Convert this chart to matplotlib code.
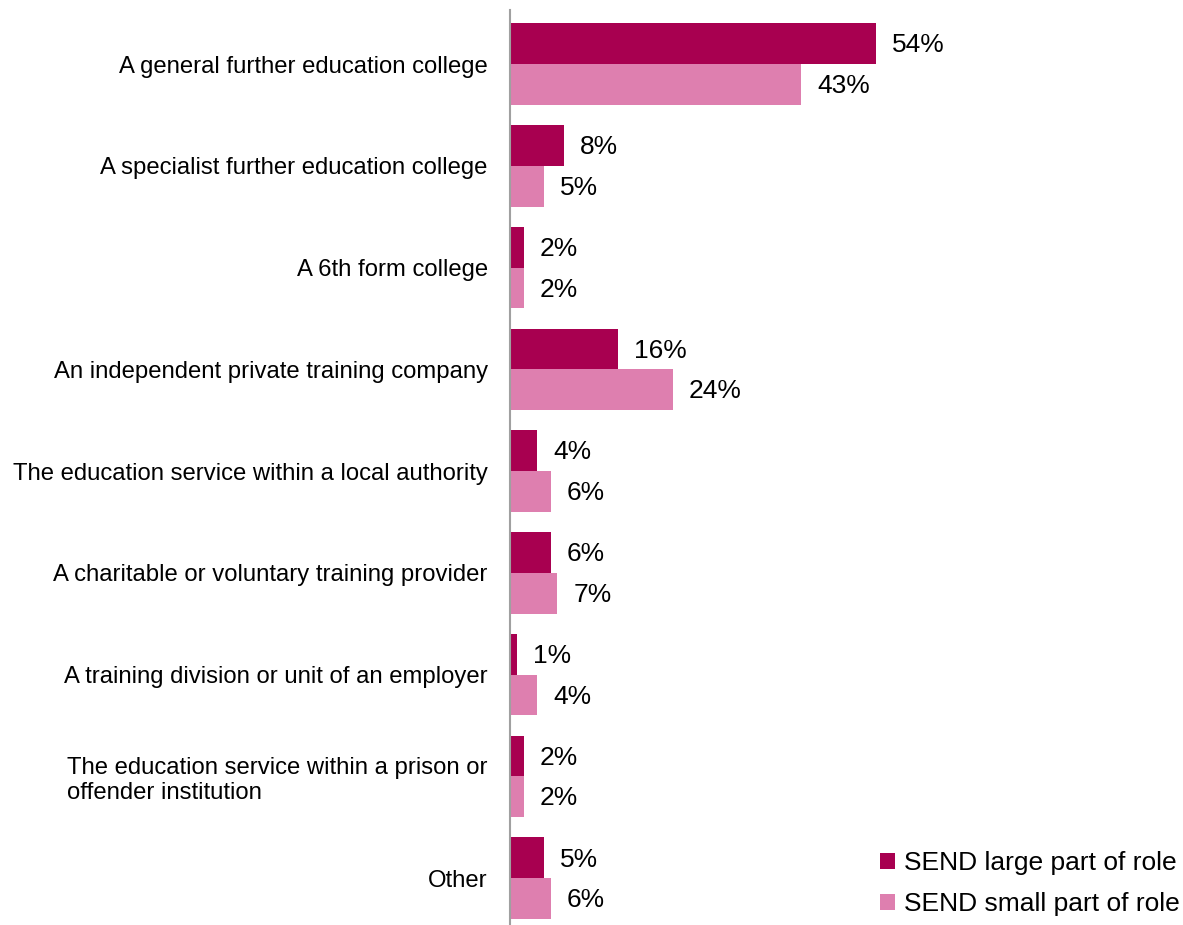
import numpy as np
import matplotlib.pyplot as plt

plt.rcParams['font.family'] = ['Liberation Sans', 'DejaVu Sans']

categories = [
    'A general further education college',
    'A specialist further education college',
    'A 6th form college',
    'An independent private training company',
    'The education service within a local authority',
    'A charitable or voluntary training provider',
    'A training division or unit of an employer',
    'The education service within a prison or\noffender institution',
    'Other',
]
large_part = [54, 8, 2, 16, 4, 6, 1, 2, 5]
small_part = [43, 5, 2, 24, 6, 7, 4, 2, 6]
series_names = ['SEND large part of role', 'SEND small part of role']

dark = '#A80050'
light = '#DE7FAF'

fig = plt.figure(figsize=(11.83, 9.25), dpi=100)
ax = fig.add_axes([0.4311, 0.0, 0.5689, 0.989])

y = np.arange(len(categories))
h = 0.4
b1 = ax.barh(y - h / 2, large_part, height=h, color=dark, label=series_names[0])
b2 = ax.barh(y + h / 2, small_part, height=h, color=light, label=series_names[1])

for bars, vals in [(b1, large_part), (b2, small_part)]:
    for bar, v in zip(bars, vals):
        ax.annotate(f'{v}%', (bar.get_width(), bar.get_y() + bar.get_height() / 2),
                    xytext=(11.5, -1.2), textcoords='offset points',
                    ha='left', va='center', fontsize=19, color='black')

ax.set_xlim(0, 99.3)
ax.set_ylim(8.46, -0.53)
ax.set_yticks(y)
ax.set_yticklabels(categories, fontsize=17.2, multialignment='left', linespacing=1.2)
ax.tick_params(axis='y', length=0, pad=16)
ax.set_xticks([])
for s in ['top', 'right', 'bottom']:
    ax.spines[s].set_visible(False)
ax.spines['left'].set_color('#A0A0A0')
ax.spines['left'].set_linewidth(1.5)

fig.legend(loc='lower right', bbox_to_anchor=(1.006, -0.002), frameon=False,
           fontsize=19, handlelength=0.55, handleheight=0.55, handletextpad=0.35,
           labelspacing=0.65, borderaxespad=0.0)

fig.savefig('out.png', dpi=100)
